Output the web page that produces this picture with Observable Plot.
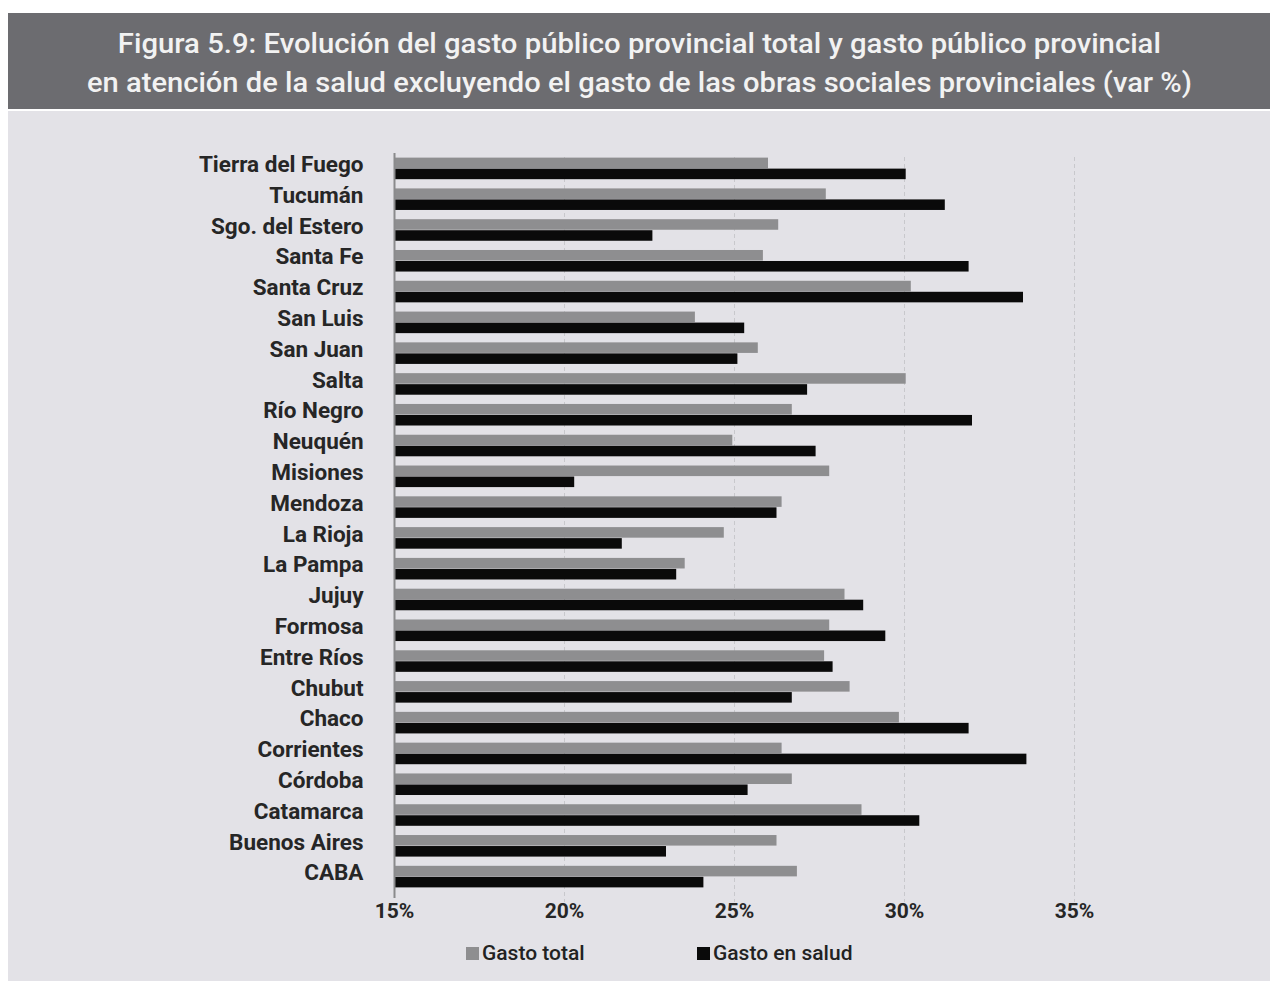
<!DOCTYPE html>
<html>
<head>
<meta charset="utf-8">
<script src="https://cdn.jsdelivr.net/npm/d3@7"></script>
<script src="https://cdn.jsdelivr.net/npm/@observablehq/plot@0.6"></script>
<style>
  body { margin: 0; background: #ffffff; width: 1270px; height: 987px; position: relative; overflow: hidden; }
  .cf { font-family: Roboto, "Noto Sans", sans-serif; }
  #header { position: absolute; left: 8px; top: 13px; width: 1262px; height: 96px; background: #6c6c70; color: #f2f2f2;
            font-weight: 500; font-size: 27px; line-height: 39px; text-align: center; box-sizing: border-box; padding-top: 12px; }
  #header span { display: inline-block; white-space: nowrap; transform-origin: center center; }
  #panel { position: absolute; left: 8px; top: 111px; width: 1262px; height: 870px; background: #e3e2e7; }
  #chart { position: absolute; left: 0; top: 112px; }
  #legend { position: absolute; top: 940px; left: 0; width: 1270px; height: 26px; font-size: 21px; color: #222; font-weight: 500; }
  .item { position: absolute; top: 0; display: flex; align-items: center; height: 26px; }
  .sw { width: 13px; height: 13px; margin-right: 3px; }
</style>
</head>
<body>
<div id="header" class="cf"><span data-w="1043">Figura 5.9: Evolución del gasto público provincial total y gasto público provincial</span><br><span data-w="1105">en atención de la salud excluyendo el gasto de las obras sociales provinciales (var %)</span></div>
<div id="panel"></div>
<div id="chart"></div>
<div id="legend" class="cf">
  <div class="item" style="left:466px"><div class="sw" style="background:#8e8e90"></div><span>Gasto total</span></div>
  <div class="item" style="left:697px"><div class="sw" style="background:#0a0a0a"></div><span>Gasto en salud</span></div>
</div>
<script>
const provinces = ["Tierra del Fuego","Tucumán","Sgo. del Estero","Santa Fe","Santa Cruz","San Luis","San Juan","Salta","Río Negro","Neuquén","Misiones","Mendoza","La Rioja","La Pampa","Jujuy","Formosa","Entre Ríos","Chubut","Chaco","Corrientes","Córdoba","Catamarca","Buenos Aires","CABA"];
const gastoTotal = [26.0, 27.7, 26.3, 25.85, 30.2, 23.85, 25.7, 30.05, 26.7, 24.95, 27.8, 26.4, 24.7, 23.55, 28.25, 27.8, 27.65, 28.4, 29.85, 26.4, 26.7, 28.75, 26.25, 26.85];
const gastoSalud = [30.05, 31.2, 22.6, 31.9, 33.5, 25.3, 25.1, 27.15, 32.0, 27.4, 20.3, 26.25, 21.7, 23.3, 28.8, 29.45, 27.9, 26.7, 31.9, 33.6, 25.4, 30.45, 23.0, 24.1];
const xTicks = [15, 20, 25, 30, 35];
const gridTicks = [20, 25, 30, 35];

// fit title lines to reference widths
document.querySelectorAll("#header span").forEach(s => {
  const w = s.getBoundingClientRect().width;
  const target = +s.dataset.w;
  s.style.transform = `scaleX(${target / w})`;
});

const rows = provinces.map((p, i) => ({province: p, total: gastoTotal[i], salud: gastoSalud[i]}));
const FONT = 'Roboto, "Noto Sans", sans-serif';

const chart = Plot.plot({
  width: 1270,
  height: 830,
  marginLeft: 394,
  marginRight: 196,
  marginTop: 41,
  marginBottom: 50,
  style: {fontFamily: FONT, background: "transparent", color: "#222"},
  x: {domain: [15, 35]},
  y: {domain: provinces, paddingInner: 0.3, paddingOuter: 0.15, round: false},
  marks: [
    Plot.ruleX(gridTicks, {stroke: "#c8c8cc", strokeWidth: 1, strokeDasharray: "4,3", insetBottom: -10, insetTop: 4}),
    Plot.barX(rows, {y: "province", x1: () => 15, x2: "total", fill: "#8e8e90", insetBottom: 11}),
    Plot.barX(rows, {y: "province", x1: () => 15, x2: "salud", fill: "#0a0a0a", insetTop: 11}),
    Plot.ruleX([15], {stroke: "#8a8a8c", strokeWidth: 2, insetBottom: -6}),
    Plot.axisY({tickSize: 0, tickPadding: 31, fontSize: 22.5, fontWeight: 700, fill: "#262626", dy: -4, label: null}),
    Plot.axisX({ticks: xTicks, tickFormat: d => d + "%", tickSize: 0, tickPadding: 11, fontSize: 21, fontWeight: 700, fill: "#262626", label: null})
  ]
});
document.getElementById("chart").appendChild(chart);
</script>
</body>
</html>
